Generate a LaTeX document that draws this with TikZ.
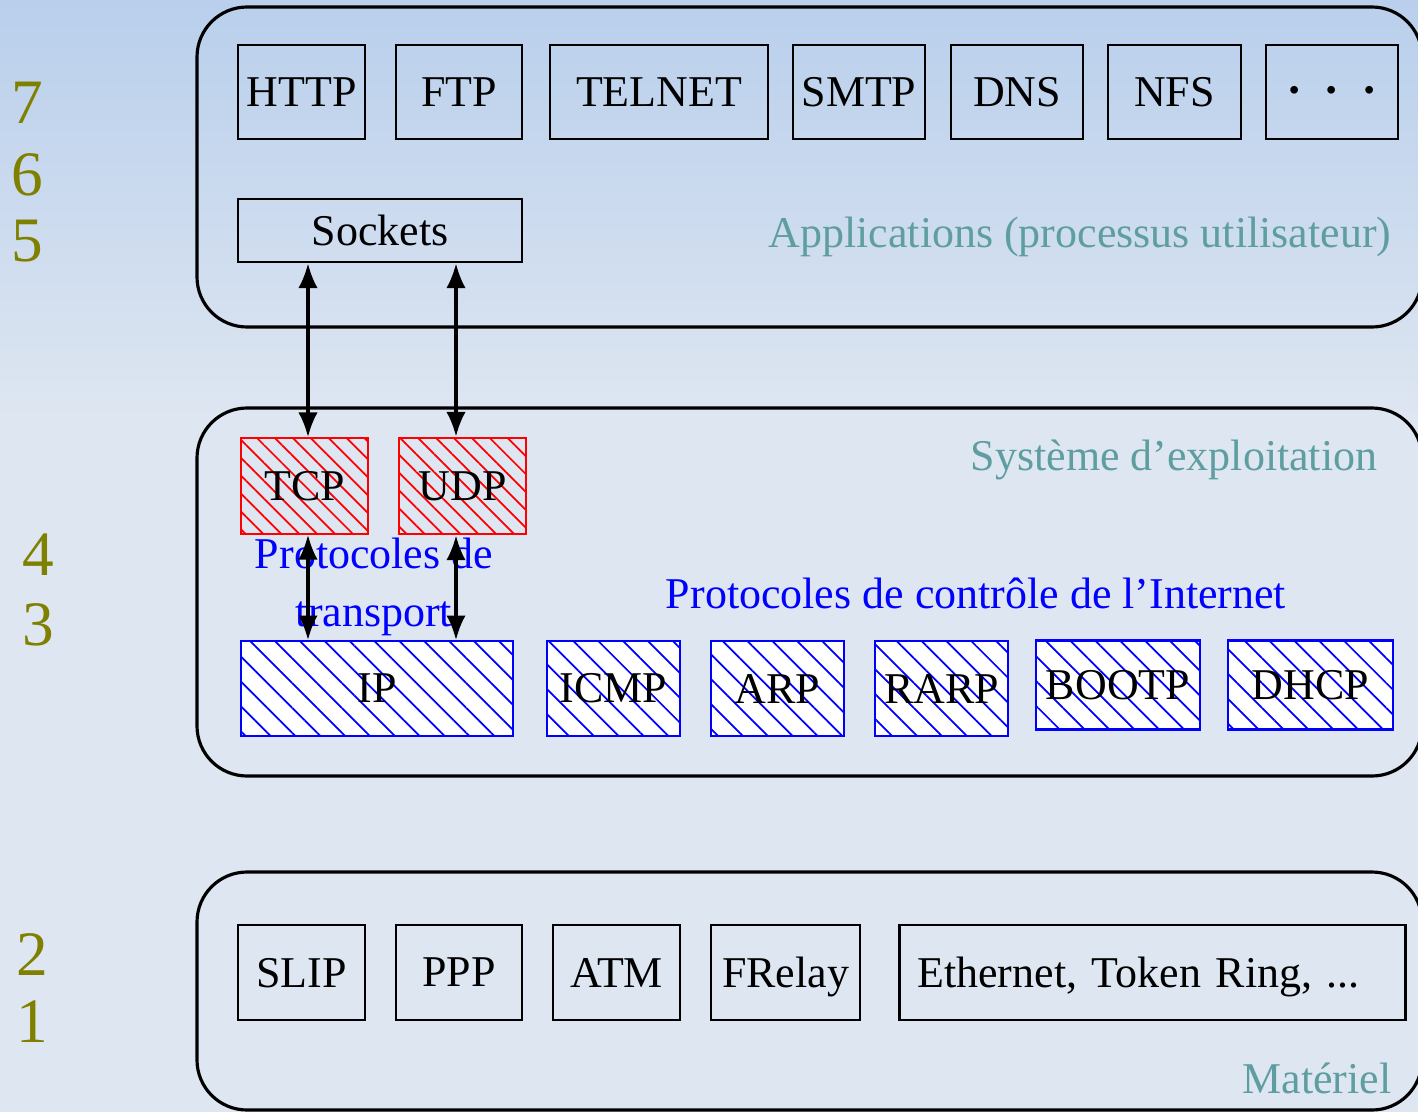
\documentclass[tikz,border=0pt]{standalone}
\usepackage{fontspec}
\setmainfont{Liberation Serif}
\usepackage{tikz}
\usetikzlibrary{arrows.meta,patterns.meta}
\definecolor{bgoben}{RGB}{185,207,236}
\definecolor{bgunten}{RGB}{222,230,241}
\definecolor{schicht}{RGB}{95,158,160}
\definecolor{olivgruen}{RGB}{128,128,0}

\begin{document}
\begin{tikzpicture}[
x=0.01cm, y=-0.01cm,
font=\fontsize{12.5}{15}\selectfont,
>={Latex[length=7pt,width=5.5pt]},   %Pfeilspitzen
kasten/.style={draw, line width=0.8pt, inner sep=0pt},
blaubox/.style={kasten, draw=blue, preaction={fill=white},
  pattern={Lines[angle=-45,distance=5pt,line width=0.5pt]}, pattern color=blue},
rotbox/.style={kasten, draw=red,
  pattern={Lines[angle=-45,distance=3.6pt,line width=0.5pt]}, pattern color=red},
ebene/.style={draw, line width=0.9pt, rounded corners=0.5cm},
nummer/.style={text=olivgruen, font=\fontsize{18}{20}\selectfont},
schichtname/.style={text=schicht, anchor=east, inner sep=0pt},
pfeil/.style={<->, line width=0.9pt}
]

\useasboundingbox (0,0) rectangle (1418,1112);

% Hintergrund
\fill[bgunten] (0,0) rectangle (1418,1112);
\shade[top color=bgoben, bottom color=bgunten] (0,0) rectangle (1418,420);

% Ebenen
\draw[ebene] (197,7) rectangle (1422,327);
\draw[ebene] (197,408) rectangle (1422,776);
\draw[ebene] (197,872) rectangle (1422,1110);

% Schichtnummern
\foreach \n/\x/\y in {7/27/103, 6/27/175, 5/27/241, 4/38/555, 3/38/625, 2/32/955, 1/32/1022}
\node[nummer] (num\n) at (\x,\y) {\n};

% Anwendungen
\foreach \name/\x/\w/\txt in {http/238/127/HTTP, ftp/396/126/FTP, telnet/550/218/TELNET,
  smtp/793/132/SMTP, dns/951/132/DNS, nfs/1108/133/NFS,
  etc/1266/132/{\fontsize{20}{20}\selectfont$\cdot$\hspace{5pt}$\cdot$\hspace{5pt}$\cdot$}}
\node[kasten, minimum width=\w*0.01cm, minimum height=0.94cm] (\name) at ({\x+\w/2},92) {\txt};

\node[kasten, minimum width=2.84cm, minimum height=0.63cm] (sockets) at (380,230.5) {Sockets};
\node[schichtname] (anwendung) at (1392,237) {Applications (processus utilisateur)};

% Transport
\node[rotbox, minimum width=1.27cm, minimum height=0.96cm] (tcp) at (304.5,486) {TCP};
\node[rotbox, minimum width=1.27cm, minimum height=0.96cm] (udp) at (462.5,486) {UDP};
\node[schichtname] (system) at (1378,460) {Système d’exploitation};

% Internet
\foreach \name/\x/\w/\y/\h/\txt in {ip/241/272/688.5/95/IP, icmp/547/133/688.5/95/ICMP,
  arp/711/133/688.5/95/ARP, rarp/875/133/688.5/95/RARP,
  bootp/1036/164/685/89/BOOTP, dhcp/1228/165/685/89/DHCP}
\node[blaubox, minimum width=\w*0.01cm, minimum height=\h*0.01cm] (\name) at ({\x+\w/2},\y) {\txt};

\node[text=blue, align=center, font=\fontsize{12.5}{16.5}\selectfont] (transport) at (374,587) {Protocoles de\\transport};
\node[text=blue] (kontrolle) at (976,593) {Protocoles de contrôle de l’Internet};

% Pfeile
\coordinate (p1) at (308,0);
\coordinate (p2) at (456,0);
\draw[pfeil] (p1 |- sockets.south) -- (p1 |- tcp.north);
\draw[pfeil] (p2 |- sockets.south) -- (p2 |- udp.north);
\draw[pfeil] (p1 |- tcp.south) -- (p1 |- ip.north);
\draw[pfeil] (p2 |- udp.south) -- (p2 |- ip.north);

% Material
\foreach \name/\x/\w/\txt in {slip/238/127/SLIP, ppp/396/126/PPP, atm/553/127/ATM,
  frelay/711/149/FRelay}
\node[kasten, minimum width=\w*0.01cm, minimum height=0.95cm, text depth=0pt] (\name) at ({\x+\w/2},972.5) {\txt};
\node[kasten, minimum width=5.05cm, minimum height=0.95cm, text depth=0pt, text width=4.7cm, align=left] (ethernet) at (1152.5,972.5) {Ethernet, Token Ring, ...};
\node[schichtname] (material) at (1392,1078) {Matériel};

\end{tikzpicture}
\end{document}
